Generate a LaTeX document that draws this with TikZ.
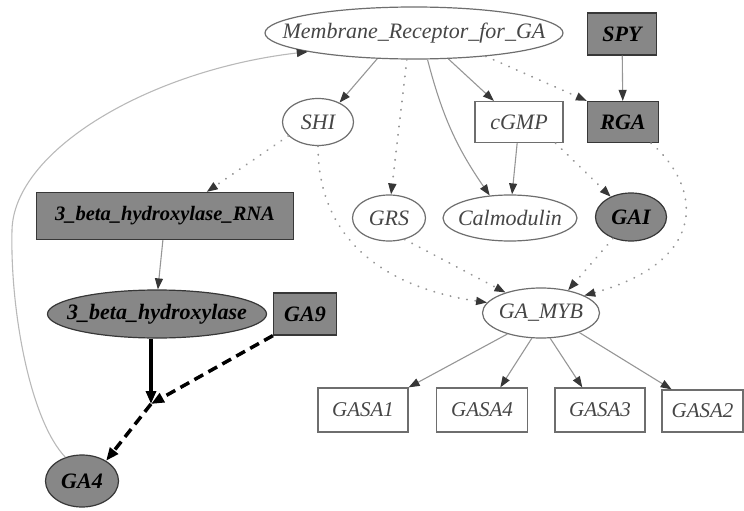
\documentclass[tikz,border=0pt]{standalone}
\usepackage{fontspec}
\setmainfont{Liberation Serif}
\usetikzlibrary{shapes.geometric,arrows.meta}

\definecolor{nodefill}{RGB}{135,135,135}
\definecolor{nodeline}{RGB}{55,55,55}
\definecolor{lightline}{RGB}{110,110,110}
\definecolor{plaintext}{RGB}{70,70,70}
\definecolor{edgegray}{RGB}{150,150,150}
\definecolor{curvegray}{RGB}{185,185,185}
\definecolor{tipgray}{RGB}{55,55,55}

% zero-width label so ellipses keep their given size
\newcommand{\lbl}[1]{\makebox[0pt][c]{#1}}

\tikzset{
  base/.style={inner sep=0pt, line width=1.2pt},
  plain/.style={base, draw=lightline, fill=white, text=plaintext,
    font=\fontsize{22}{24}\selectfont\itshape},
  shaded/.style={base, draw=nodeline, fill=nodefill, text=black,
    font=\fontsize{22}{24}\selectfont\bfseries\itshape},
  smaller/.style={font=\fontsize{20.5}{23}\selectfont\bfseries\itshape},
  gasa/.style={font=\fontsize{21}{23}\selectfont\itshape},
  oval/.style={ellipse},
  boxed/.style={rectangle},
  sz/.style 2 args={minimum width=#1pt, minimum height=#2pt},
  link/.style={draw=edgegray, line width=1.1pt,
    -{Triangle[length=11pt,width=8pt,color=tipgray]}},
  dotlink/.style={link, line width=1.8pt, dash pattern=on 0.4pt off 8pt, line cap=round},
  heavy/.style={draw=black, line width=3.5pt,
    -{Triangle[length=13pt,width=10pt]}},
  heavydash/.style={heavy, dash pattern=on 10pt off 6pt},
}

\begin{document}
\begin{tikzpicture}[x=1pt, y=-1pt]
  \useasboundingbox (0,0) rectangle (744,511);

  % nodes
  \node[plain, oval, sz={298}{52}] (mr) at (414,33) {\lbl{Membrane\_Receptor\_for\_GA}};
  \node[shaded, boxed, sz={69}{42}] (spy) at (622,34) {SPY};
  \node[plain, oval, sz={71}{47}] (shi) at (318,122) {\lbl{SHI}};
  \node[plain, boxed, sz={88}{41}] (cgmp) at (519,122) {cGMP};
  \node[shaded, boxed, sz={71}{41}] (rga) at (623,122) {RGA};
  \node[shaded, smaller, boxed, sz={257}{47}] (rna) at (165,216) {3\_beta\_hydroxylase\_RNA};
  \node[plain, oval, sz={73}{46}] (grs) at (389,218) {\lbl{GRS}};
  \node[plain, oval, sz={134}{46}] (calm) at (510,218) {\lbl{Calmodulin}};
  \node[shaded, oval, sz={71}{48}] (gai) at (631,217) {\lbl{GAI}};
  \node[plain, oval, sz={117}{50}] (gamyb) at (541,313) {\lbl{GA\_MYB}};
  \node[shaded, oval, sz={219}{48}] (bh) at (157,314) {\lbl{3\_beta\_hydroxylase}};
  \node[shaded, boxed, sz={63}{42}] (ga9) at (305,314) {GA9};
  \node[shaded, oval, sz={73}{52}] (ga4) at (82,481) {\lbl{GA4}};
  \node[plain, gasa, boxed, sz={90}{44}] (gasa1) at (363,410) {GASA1};
  \node[plain, gasa, boxed, sz={91}{44}] (gasa4) at (482,410) {GASA4};
  \node[plain, gasa, boxed, sz={90}{44}] (gasa3) at (600,410) {GASA3};
  \node[plain, gasa, boxed, sz={81}{42}] (gasa2) at (702.5,411) {GASA2};
  \coordinate (j) at (151,404);

  % edges from the receptor
  \draw[link] (mr.215) -- (shi.42);
  \draw[dotlink] (mr.255) -- (grs.85);
  \draw[link] (mr.297) to[bend right=10] (calm.132);
  \draw[link] (mr.323) -- (cgmp.140);
  \draw[dotlink] (mr.342) -- (rga.north west);
  \draw[link] (spy) -- (rga);

  % second layer
  \draw[dotlink] (shi.205) -- (rna.30);
  \draw[dotlink] (shi.south) .. controls (318,250) and (400,290) .. (gamyb.169);
  \draw[dotlink] (grs.306) -- (gamyb.150);
  \draw[link] (cgmp.265) -- (calm.85);
  \draw[dotlink] (cgmp.-30) -- (gai.135);
  \draw[dotlink] (rga.-37) .. controls (700,185) and (712,260) .. (gamyb.22);
  \draw[dotlink] (gai.230) -- (gamyb.40);

  % targets of GA_MYB
  \draw[link] (gamyb.212) -- (gasa1.north east);
  \draw[link] (gamyb.250) -- (gasa4.51);
  \draw[link] (gamyb.290) -- (gasa3.128);
  \draw[link] (gamyb.333) -- (gasa2.145);

  % GA4 synthesis
  \draw[link] (rna.265) -- (bh.88);
  \draw[heavy] (bh.south -| j) -- (j);
  \draw[heavydash] (ga9.south west) -- (j);
  \draw[heavydash] (j) -- (ga4.40);

  % feedback to the receptor
  \draw[link, draw=curvegray] (ga4.125) .. controls (30,420) and (10,310) .. (12,230)
    .. controls (14,150) and (150,70) .. (mr.190);
\end{tikzpicture}
\end{document}
